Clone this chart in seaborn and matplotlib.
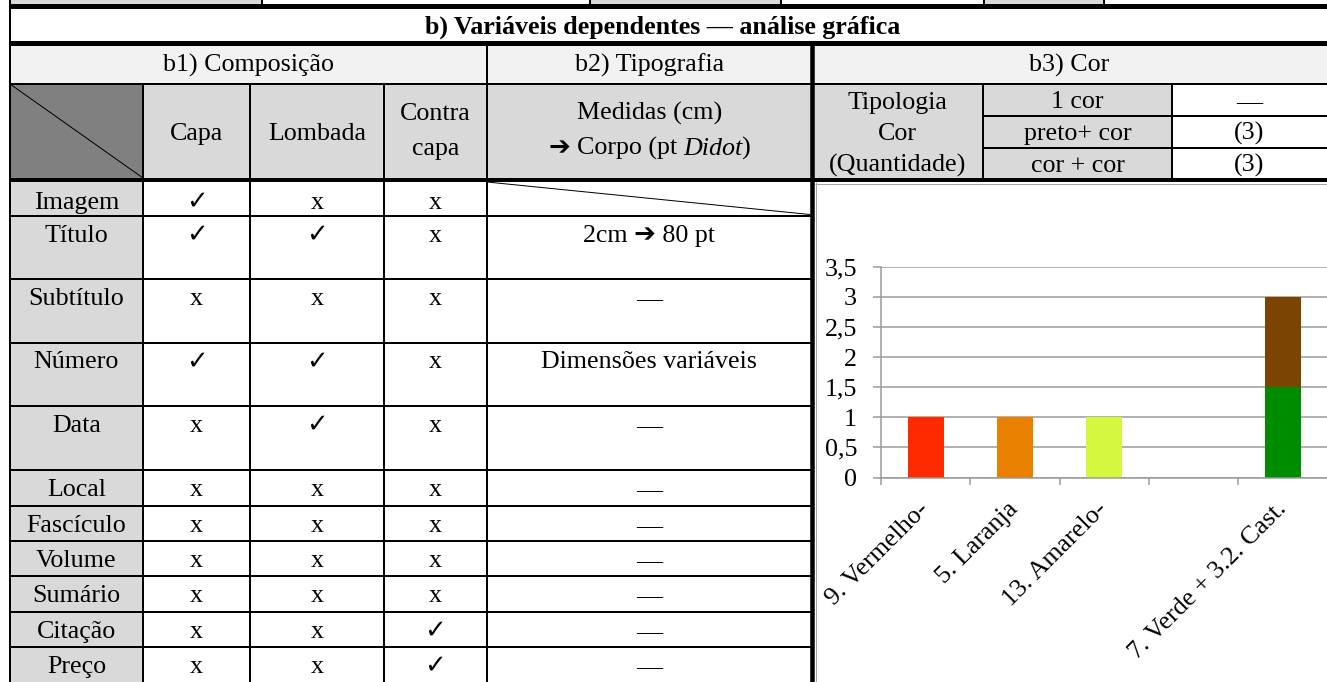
import numpy as np
import pandas as pd
import matplotlib
matplotlib.use("Agg")
import matplotlib.pyplot as plt
from matplotlib.patches import Rectangle
from matplotlib.ticker import FixedLocator
import seaborn as sns

# ---------------- data ----------------
titulo = "b) Variáveis dependentes — análise gráfica"
secoes = ["b1) Composição", "b2) Tipografia", "b3) Cor"]
colunas = ["Capa", "Lombada"]
coluna_contra = ["Contra", "capa"]
medidas_titulo = "Medidas (cm)"
medidas_corpo = ["➔", "Corpo (pt", "Didot", ")"]
campos = ["Imagem", "Título", "Subtítulo", "Número", "Data", "Local",
          "Fascículo", "Volume", "Sumário", "Citação", "Preço"]
capa = ["✓", "✓", "x", "✓", "x", "x", "x", "x", "x", "x", "x"]
lombada = ["x", "✓", "x", "✓", "✓", "x", "x", "x", "x", "x", "x"]
contracapa = ["x", "x", "x", "x", "x", "x", "x", "x", "x", "✓", "✓"]
medidas = [None, "2cm ➔ 80 pt", "—", "Dimensões variáveis", "—", "—",
           "—", "—", "—", "—", "—"]
tipologia_rotulo = ["Tipologia", "Cor", "(Quantidade)"]
tipologia = ["1 cor", "preto+ cor", "cor + cor"]
quantidade = ["—", "(3)", "(3)"]

categorias = ["9. Vermelho-", "5. Laranja", "13. Amarelo-", "", "7. Verde + 3.2. Cast."]
valores_base = [1, 1, 1, np.nan, 1.5]
valores_topo = [np.nan, np.nan, np.nan, np.nan, 1.5]
cores_base = ["#FF2A00", "#E98000", "#D4F740", "#FFFFFF", "#008C00"]
cor_topo = "#7B4400"
ticks_y = [0, 0.5, 1, 1.5, 2, 2.5, 3, 3.5]
rotulos_y = ["0", "0,5", "1", "1,5", "2", "2,5", "3", "3,5"]

# ---------------- style ----------------
sns.set_style("white")
plt.rcParams["font.family"] = ["Liberation Serif", "DejaVu Sans"]
plt.rcParams["text.color"] = "black"
plt.rcParams["xtick.labelcolor"] = "black"
plt.rcParams["ytick.labelcolor"] = "black"

W, H = 1327, 682
PX = 72 / 100
FS = 26 * PX
GRID = "#999999"

fig = plt.figure(figsize=(W / 100, H / 100), dpi=100)
bg = fig.add_axes([0, 0, 1, 1])
bg.set_xlim(0, W)
bg.set_ylim(H, 0)
bg.axis("off")
renderer = fig.canvas.get_renderer()


def caixa(x0, y0, x1, y1, cor):
    bg.add_patch(Rectangle((x0, y0), x1 - x0, y1 - y0, facecolor=cor,
                           edgecolor="none", zorder=1))


def linha(x0, y0, x1, y1, px=2, cor="black"):
    bg.plot([x0, x1], [y0, y1], color=cor, lw=px * PX,
            solid_capstyle="butt", zorder=3)


def texto(x, y, s, **kw):
    kw.setdefault("ha", "center")
    kw.setdefault("fontsize", FS)
    return bg.text(x, y, s, va="baseline", zorder=4, **kw)


def texto_partes(xc, y, partes):
    objs, larguras = [], []
    for s, kw, extra in partes:
        if s is None:
            objs.append(None)
            larguras.append(extra)
            continue
        o = texto(0, y, s, ha="left", **kw)
        objs.append(o)
        larguras.append(o.get_window_extent(renderer).width + extra)
    x = xc - sum(larguras) / 2
    for o, w in zip(objs, larguras):
        if o is not None:
            o.set_x(x)
        x += w


# layout (pixels)
XC = [10, 143, 250, 384, 486.5, 812]          # left table column edges
XB3 = [812, 983, 1172, W]                     # b3 header columns
YSUB = [84, 116, 148, 178]
ROW_H = [36, 63, 63.5, 63.5, 64, 36, 35.2, 35.2, 35.2, 35.2, 35.2]
row_tops = list(180 + np.concatenate([[0], np.cumsum(ROW_H)]))

# top strip (previous section, cropped)
for x0, x1 in [(10, 262), (590, 781), (984, 1104)]:
    caixa(x0, 0, x1, 4, "#D9D9D9")
for x in [262, 590, 781, 984, 1104]:
    linha(x, 0, x, 5, 2)

# fills
caixa(10, 45, W, 83.5, "#F2F2F2")
caixa(10, 83.5, W, 180, "#D9D9D9")
caixa(10, 83.5, 143, 180, "#808080")
caixa(1172, 83.5, W, 180, "white")
caixa(10, 180, 143, H, "#D9D9D9")

# lines
linha(10, 0, 10, H, 2)
linha(10, 6, W, 6, 5)
linha(10, 42.5, W, 42.5, 5)
linha(10, 83.5, W, 83.5, 2)
linha(10, 180, W, 180, 4)
linha(XC[4], 45, XC[4], H, 2)
for x in XC[1:4]:
    linha(x, 83.5, x, H, 2)
linha(XC[5], 45, XC[5], H, 4.5)
for x in XB3[1:3]:
    linha(x, 83.5, x, 180, 2)
for y in YSUB[1:3]:
    linha(XB3[1], y, W, y, 2)
for y in row_tops[1:-1]:
    linha(10, y, XC[5], y, 2)
linha(10, 84, 143, 178, 1)
linha(487, 182, 810, row_tops[1] - 1.5, 1)
linha(815.5, 182, 815.5, H, 1, "#A6A6A6")
linha(815, 183.5, W, 183.5, 1, "#A6A6A6")

# texts
texto(663, 34, titulo, fontweight="bold")
texto((XC[0] + XC[4]) / 2, 72, secoes[0])
texto((XC[4] + XC[5]) / 2, 72, secoes[1])
texto((XC[5] + W) / 2, 72, secoes[2])

texto((XC[1] + XC[2]) / 2, 140, colunas[0])
texto((XC[2] + XC[3]) / 2, 140, colunas[1])
for s, y in zip(coluna_contra, [120, 155]):
    texto((XC[3] + XC[4]) / 2, y, s)
texto((XC[4] + XC[5]) / 2, 120, medidas_titulo)
texto_partes((XC[4] + XC[5]) / 2, 155, [
    (medidas_corpo[0], dict(family="DejaVu Sans"), 0),
    (None, {}, 6.5),
    (medidas_corpo[1], {}, 0),
    (None, {}, 6.5),
    (medidas_corpo[2], dict(style="italic"), -2),
    (medidas_corpo[3], {}, 0),
])
for s, y in zip(tipologia_rotulo, [108.5, 140, 171.5]):
    texto((XB3[0] + XB3[1]) / 2, y, s)
for s, y in zip(tipologia, [108.5, 140, 171.5]):
    texto((XB3[1] + XB3[2]) / 2, y, s)
for s, y in zip(quantidade, [108.5, 140, 171.5]):
    texto((XB3[2] + XB3[3]) / 2, y, s)

for i, campo in enumerate(campos):
    yb = row_tops[i] + 26 + (3 if i == 0 else 0)
    texto((XC[0] + XC[1]) / 2, yb, campo)
    for j, col in enumerate([capa, lombada, contracapa]):
        s = col[i]
        if s == "✓":
            texto((XC[j + 1] + XC[j + 2]) / 2, yb, s, family="DejaVu Sans",
                  fontweight="bold")
        else:
            texto((XC[j + 1] + XC[j + 2]) / 2, yb, s)
    if medidas[i] is not None:
        texto((XC[4] + XC[5]) / 2, yb, medidas[i])

# ---------------- chart ----------------
ax = fig.add_axes([881 / W, (H - 477.5) / H, (W + 0.5 - 881) / W, (477.5 - 266.7) / H])
ax.set_zorder(5)

df = pd.DataFrame({"categoria": categorias, "base": valores_base,
                   "topo": valores_topo, "cor": cores_base})
df_base = df.dropna(subset=["base"])
sns.barplot(data=df_base, x="categoria", y="base", hue="categoria",
            order=categorias, palette=dict(zip(df_base["categoria"], df_base["cor"])),
            width=0.4, saturation=1, legend=False, linewidth=0,
            errorbar=None, ax=ax)
df_topo = df.dropna(subset=["topo"])
sns.barplot(data=df_topo, x="categoria", y="topo", order=categorias,
            color=cor_topo, width=0.4, saturation=1, linewidth=0,
            errorbar=None, bottom=df_topo["base"].to_numpy(), ax=ax)

ax.set_xlim(-0.5, len(categorias) - 0.5)
ax.set_ylim(ticks_y[0], ticks_y[-1])
ax.set_yticks(ticks_y)
ax.set_yticklabels(rotulos_y, fontsize=FS, color="black")
ax.set_xticks(range(len(categorias)))
ax.set_xticklabels(categorias, fontsize=FS, rotation=45, ha="right",
                   va="center", rotation_mode="anchor", color="black")
ax.xaxis.set_minor_locator(FixedLocator(np.arange(-0.5, len(categorias), 1.0)))
ax.tick_params(axis="x", which="major", bottom=True, length=0, pad=28 * PX)
ax.tick_params(axis="x", which="minor", bottom=True, length=7 * PX,
               width=1.5 * PX, color=GRID, direction="out")
ax.tick_params(axis="y", which="major", left=True, length=8 * PX,
               width=1.5 * PX, color=GRID, direction="out", pad=16 * PX)
ax.yaxis.grid(True, color=GRID, lw=1.5 * PX)
ax.xaxis.grid(False)
ax.set_axisbelow(True)
for side in ["top", "right"]:
    ax.spines[side].set_visible(False)
for side in ["left", "bottom"]:
    ax.spines[side].set_color(GRID)
    ax.spines[side].set_linewidth(1.5 * PX)
ax.set_xlabel("")
ax.set_ylabel("")

fig.savefig("out.png", dpi=100)
